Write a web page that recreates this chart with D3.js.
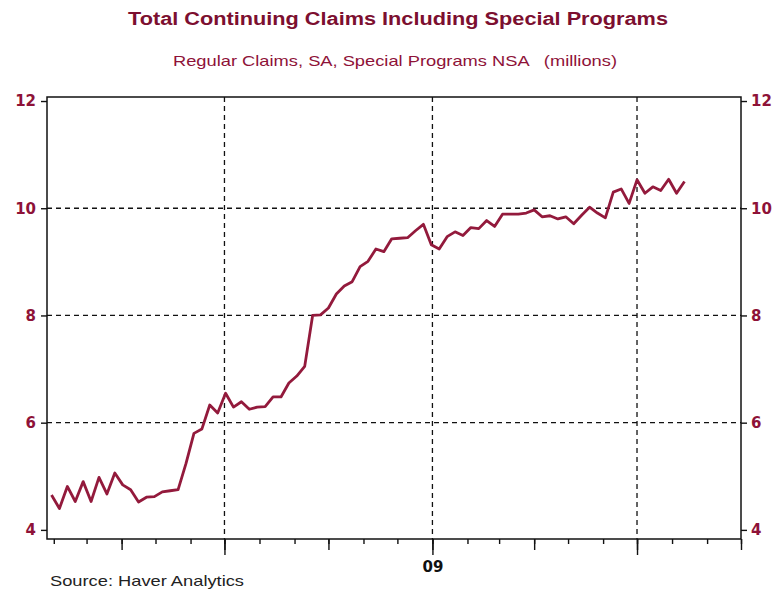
<!DOCTYPE html>
<html>
<head>
<meta charset="utf-8">
<script src="https://cdn.jsdelivr.net/npm/d3@7/dist/d3.min.js"></script>
<style>
  html, body { margin: 0; padding: 0; background: #ffffff; }
  svg { display: block; }
  text { white-space: pre; }
</style>
</head>
<body>
<svg id="chart" width="779" height="591"></svg>
<script>
// Total continuing claims (regular SA + special programs NSA), millions, weekly
const firstWeek = new Date(Date.UTC(2008, 0, 30));
const lastWeek = new Date(Date.UTC(2009, 7, 12));
const claims = [
  4.65, 4.40, 4.81, 4.53, 4.90, 4.53, 4.98, 4.67, 5.06, 4.84,
  4.75, 4.52, 4.61, 4.62, 4.71, 4.73, 4.75, 5.24, 5.80, 5.88,
  6.33, 6.18, 6.55, 6.29, 6.39, 6.25, 6.29, 6.30, 6.48, 6.48,
  6.74, 6.87, 7.05, 8.00, 8.01, 8.14, 8.40, 8.55, 8.63, 8.91,
  9.01, 9.24, 9.19, 9.43, 9.44, 9.45, 9.58, 9.70, 9.32, 9.24,
  9.47, 9.56, 9.49, 9.64, 9.62, 9.77, 9.66, 9.89, 9.89, 9.89,
  9.91, 9.97, 9.84, 9.86, 9.80, 9.84, 9.71, 9.87, 10.02, 9.91,
  9.82, 10.30, 10.36, 10.09, 10.53, 10.28, 10.40, 10.33, 10.54, 10.28,
  10.50
];
const yTicks = [4, 6, 8, 10, 12];
const yGrid = [6, 8, 10];
const yearLabel = "09";

const titleText = "Total Continuing Claims Including Special Programs";
const subtitleText = "Regular Claims, SA, Special Programs NSA   (millions)";
const sourceText = "Source: Haver Analytics";

const weeks = d3.utcWednesday.range(firstWeek, d3.utcDay.offset(lastWeek, 1));
const series = weeks.map((d, i) => ({ date: d, value: claims[i] }));

const red = "#8e1238";
const lineRed = "#931a3c";

const svg = d3.select("#chart");
const frame = { left: 47, right: 741, top: 97, bottom: 539 };

const x = d3.scaleUtc()
  .domain([new Date(Date.UTC(2008, 0, 26)), new Date(Date.UTC(2009, 9, 1))])
  .range([frame.left, frame.right]);

const y = d3.scaleLinear()
  .domain([3.83, 12.075])
  .range([frame.bottom, frame.top]);

// Titles
svg.append("text")
  .attr("x", 398).attr("y", 25)
  .attr("text-anchor", "middle")
  .attr("textLength", 540).attr("lengthAdjust", "spacingAndGlyphs")
  .style("font-family", "'Liberation Sans Narrow', 'Liberation Sans', Arial, sans-serif")
  .style("font-weight", "bold").style("font-size", "18px")
  .attr("fill", "#7c0f30")
  .text(titleText);

svg.append("text")
  .attr("x", 395).attr("y", 66)
  .attr("text-anchor", "middle")
  .attr("textLength", 444).attr("lengthAdjust", "spacingAndGlyphs")
  .style("font-family", "'Liberation Sans Narrow', 'Liberation Sans', Arial, sans-serif")
  .style("font-size", "15px")
  .attr("fill", red)
  .text(subtitleText);

// Dashed grid
const grid = svg.append("g")
  .attr("stroke", "#111").attr("stroke-width", 1.3)
  .attr("stroke-dasharray", "5,4");
grid.selectAll("line.h").data(yGrid).join("line")
  .attr("class", "h")
  .attr("x1", frame.left).attr("x2", frame.right)
  .attr("y1", d => y(d)).attr("y2", d => y(d));
grid.selectAll("line.v").data(x.ticks(d3.utcMonth.every(6))).join("line")
  .attr("class", "v")
  .attr("x1", d => x(d)).attr("x2", d => x(d))
  .attr("y1", frame.top).attr("y2", frame.bottom);

// Series line
svg.append("path")
  .datum(series)
  .attr("fill", "none")
  .attr("stroke", lineRed)
  .attr("stroke-width", 2.8)
  .attr("stroke-linejoin", "round")
  .attr("d", d3.line().x(d => x(d.date)).y(d => y(d.value)));

// Frame
svg.append("rect")
  .attr("x", frame.left).attr("y", frame.top)
  .attr("width", frame.right - frame.left)
  .attr("height", frame.bottom - frame.top)
  .attr("fill", "none").attr("stroke", "#111").attr("stroke-width", 1.5);

// Value axes on both sides
function styleValueAxis(g) {
  g.select(".domain").remove();
  g.selectAll(".tick line").attr("stroke", "#111").attr("stroke-width", 1.4);
  g.selectAll(".tick text")
    .attr("fill", red)
    .style("font-family", "'DejaVu Sans', Verdana, sans-serif")
    .style("font-weight", "bold").style("font-size", "15px");
}
svg.append("g")
  .attr("transform", `translate(${frame.left},0)`)
  .call(d3.axisLeft(y).tickValues(yTicks).tickSize(6).tickPadding(5).tickFormat(d3.format("d")))
  .call(styleValueAxis);
svg.append("g")
  .attr("transform", `translate(${frame.right},0)`)
  .call(d3.axisRight(y).tickValues(yTicks).tickSize(6).tickPadding(4).tickFormat(d3.format("d")))
  .call(styleValueAxis);

// Time axis: monthly, quarterly and half-year ticks
function styleTimeAxis(g) {
  g.select(".domain").remove();
  g.selectAll(".tick line").attr("stroke", "#111").attr("stroke-width", 1.4);
}
const timeDomain = x.domain();
svg.append("g")
  .attr("transform", `translate(0,${frame.bottom})`)
  .call(d3.axisBottom(x).tickValues(d3.utcMonth.range(d3.utcMonth.ceil(timeDomain[0]), d3.utcDay.offset(timeDomain[1], 1)))
    .tickSize(5).tickFormat(""))
  .call(styleTimeAxis);
svg.append("g")
  .attr("transform", `translate(0,${frame.bottom})`)
  .call(d3.axisBottom(x).tickValues(d3.utcMonth.every(3).range(timeDomain[0], d3.utcDay.offset(timeDomain[1], 1)))
    .tickSize(11).tickFormat(""))
  .call(styleTimeAxis);
svg.append("g")
  .attr("transform", `translate(0,${frame.bottom})`)
  .call(d3.axisBottom(x).tickValues(d3.utcMonth.every(6).range(timeDomain[0], timeDomain[1]))
    .tickSize(16).tickPadding(6)
    .tickFormat(d => d.getUTCMonth() === 0 ? yearLabel : ""))
  .call(styleTimeAxis)
  .call(g => g.selectAll(".tick text")
    .attr("fill", "#111")
    .style("font-family", "'DejaVu Sans', Verdana, sans-serif")
    .style("font-weight", "bold").style("font-size", "15px"));

// Source note
svg.append("text")
  .attr("x", 50).attr("y", 586)
  .attr("textLength", 194).attr("lengthAdjust", "spacingAndGlyphs")
  .style("font-family", "'Liberation Sans', Arial, sans-serif")
  .style("font-size", "15px")
  .attr("fill", "#222")
  .text(sourceText);
</script>
</body>
</html>
